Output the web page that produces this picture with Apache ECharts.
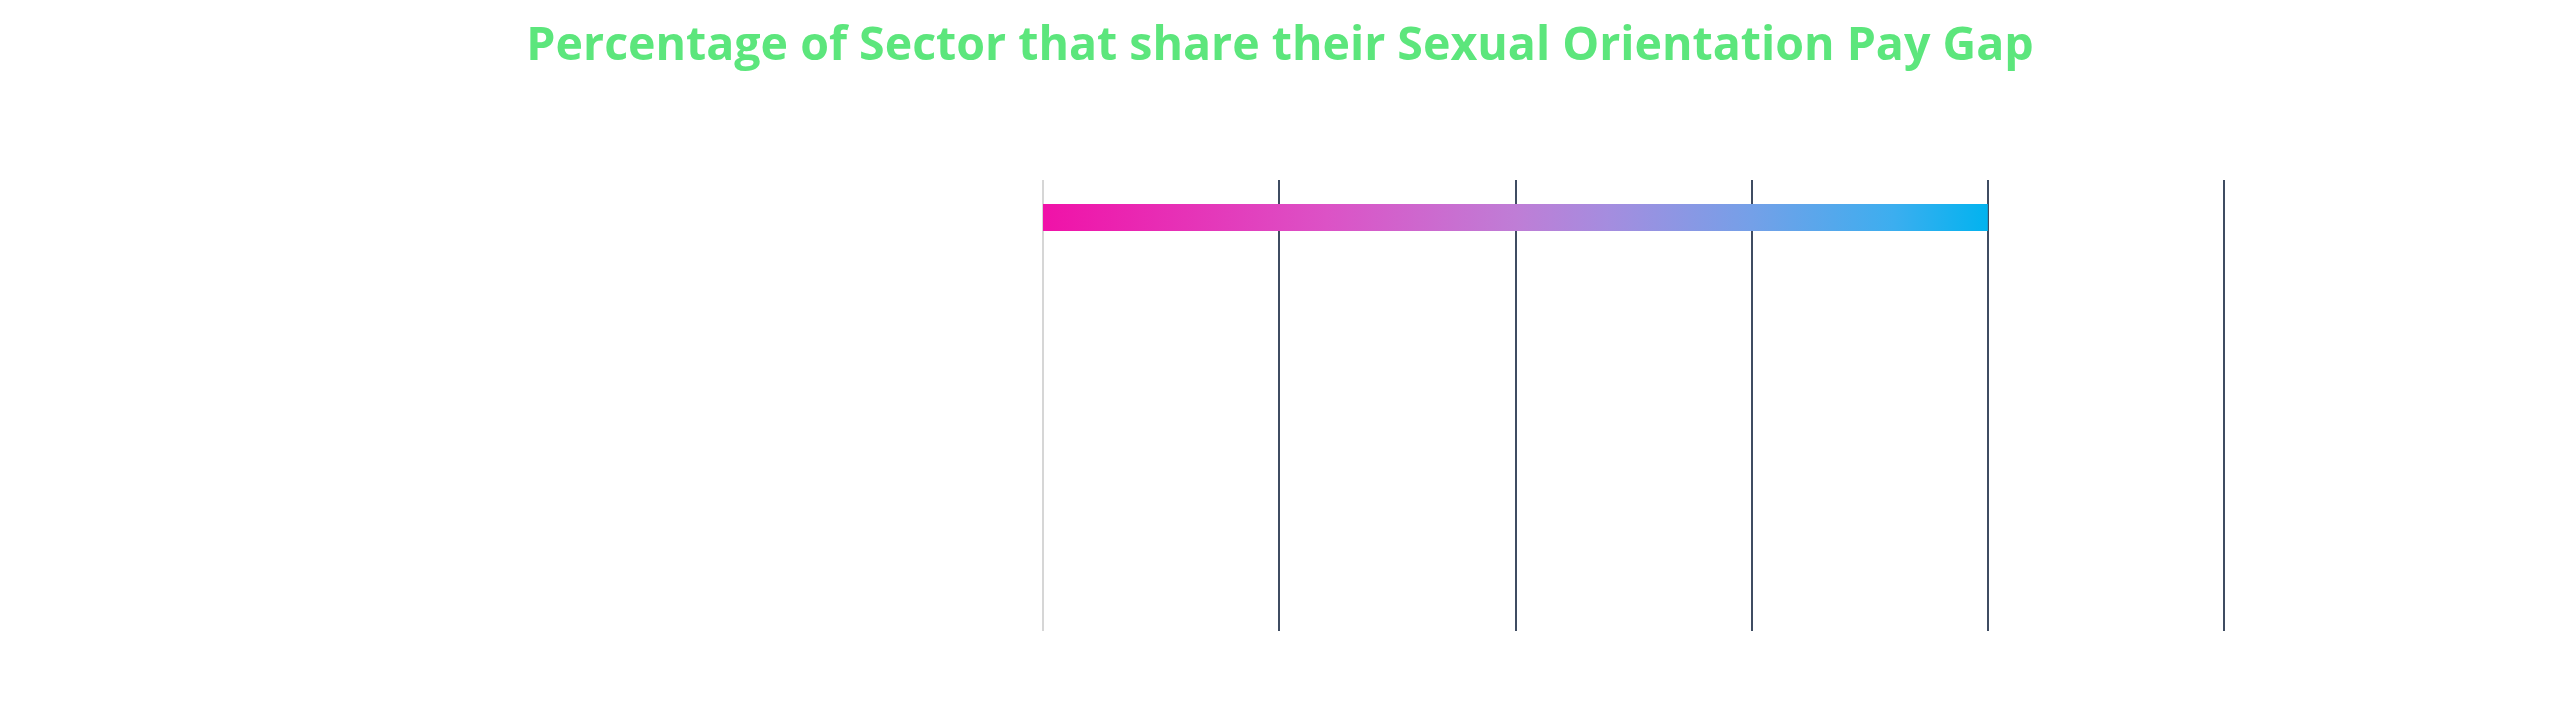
<!DOCTYPE html>
<html>
<head>
<meta charset="utf-8">
<title>Sexual Orientation Pay Gap</title>
<script src="https://cdn.jsdelivr.net/npm/echarts@6/dist/echarts.min.js"></script>
<style>
  html, body { margin: 0; padding: 0; background: #fff; }
  #chart { width: 2560px; height: 709px; }
</style>
</head>
<body>
<div id="chart"></div>
<script>
// 数据
var categories = ['Sector', '', ' ', '  ', '   ', '    '];
var shareValues = [80, '-', '-', '-', '-', '-'];
var axisMax = 100;
var axisStep = 20;

var chart = echarts.init(document.getElementById('chart'));

var option = {
    backgroundColor: '#ffffff',
    title: {
        text: 'Percentage of Sector that share their Sexual Orientation Pay Gap',
        left: 'center',
        top: 18,
        textStyle: {
            color: '#5ce67c',
            fontFamily: 'Open Sans',
            fontWeight: 'bold',
            fontSize: 46.5
        }
    },
    grid: {
        left: 1043,
        right: 336,
        top: 180,
        bottom: 78
    },
    xAxis: {
        type: 'value',
        min: 0,
        max: axisMax,
        interval: axisStep,
        axisLabel: { show: false },
        axisTick: { show: false },
        axisLine: { show: false },
        splitLine: {
            show: true,
            lineStyle: {
                color: ['#d6d6d6', '#3f4c62', '#3f4c62', '#3f4c62', '#3f4c62', '#3f4c62'],
                width: 2
            }
        }
    },
    yAxis: {
        type: 'category',
        data: categories,
        inverse: true,
        axisLabel: { show: false },
        axisTick: { show: false },
        axisLine: { show: false },
        splitLine: { show: false }
    },
    series: [{
        type: 'bar',
        data: shareValues,
        barWidth: 27,
        itemStyle: {
            // 渐变色
            color: new echarts.graphic.LinearGradient(0, 0, 1, 0, [
                { offset: 0, color: '#f012a8' },
                { offset: 0.3, color: '#dc52c6' },
                { offset: 0.5, color: '#bf7dd6' },
                { offset: 0.6, color: '#a48ddf' },
                { offset: 0.75, color: '#74a0e8' },
                { offset: 0.9, color: '#3caeef' },
                { offset: 1, color: '#02b3ef' }
            ])
        }
    }]
};

chart.setOption(option);
</script>
</body>
</html>
